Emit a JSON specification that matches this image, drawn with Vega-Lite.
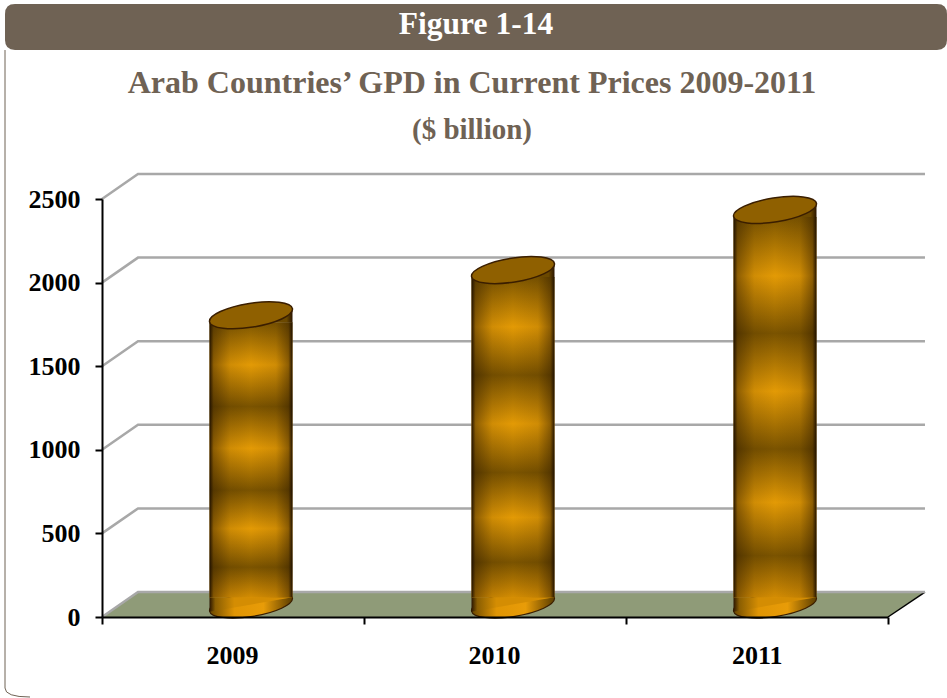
{
"$schema":"https://vega.github.io/schema/vega-lite/v6.json",
"width":786,"height":418,
"autosize":{"type":"none"},
"padding":{"left":102,"top":199,"right":59,"bottom":81},
"background":"white",
"config":{"view":{"stroke":null}},
"datasets":{
"gdp":[{"year":"2009","gdp":1730},{"year":"2010","gdp":2000},{"year":"2011","gdp":2360}],
"ticks":[{"tick":0},{"tick":500},{"tick":1000},{"tick":1500},{"tick":2000},{"tick":2500}],
"head":[{"label":"Figure 1-14","t1":"Arab Countries’ GPD in Current Prices 2009-2011","t2":"($ billion)"}]
},
"layer":[
{"data":{"name":"head"},"mark":{"type":"point","filled":true,"fill":"#6f6254","stroke":null,"opacity":1,"size":617796,"shape":"M-1.2214,-1.5598 L1.1247,-1.5598 Q1.1501,-1.5598 1.1501,-1.5344 L1.1501,-1.4681 Q1.1501,-1.4427 1.1247,-1.4427 L-1.2214,-1.4427 Q-1.2468,-1.4427 -1.2468,-1.4681 L-1.2468,-1.5344 Q-1.2468,-1.5598 -1.2214,-1.5598 Z"},
 "encoding":{"x":{"datum":"2010","type":"nominal"},"y":{"datum":0,"type":"quantitative"}}},
{"data":{"name":"head"},"mark":{"type":"point","filled":false,"fill":null,"stroke":"#6f6254","strokeWidth":1,"opacity":1,"size":617796,"shape":"M-1.2468,-1.4427 L-1.2468,0.1807 Q-1.2468,0.2036 -1.1832,0.2036"},
 "encoding":{"x":{"datum":"2010","type":"nominal"},"y":{"datum":0,"type":"quantitative"}}},
{"data":{"name":"head"},"mark":{"type":"point","filled":true,"fill":"#8f9b78","stroke":null,"opacity":1,"size":617796,"shape":"M-1,0 L1,0 L1.0941,-0.0636 L-0.9084,-0.0636 Z"},
 "encoding":{"x":{"datum":"2010","type":"nominal"},"y":{"datum":0,"type":"quantitative"}}},
{"data":{"name":"head"},"mark":{"type":"point","filled":false,"fill":null,"stroke":"#000000","strokeWidth":1.5,"opacity":1,"size":617796,"shape":"M1,0 L1.0941,-0.0636"},
 "encoding":{"x":{"datum":"2010","type":"nominal"},"y":{"datum":0,"type":"quantitative"}}},
{"data":{"name":"ticks"},"mark":{"type":"point","filled":false,"fill":null,"stroke":"#a8a8a8","strokeWidth":2.5,"opacity":1,"size":617796,"shape":"M-1,0 L-0.9084,-0.0636 L1.0941,-0.0636"},
 "encoding":{"x":{"datum":"2010","type":"nominal"},"y":{"field":"tick","type":"quantitative"}}},
{"data":{"name":"gdp"},"mark":{"type":"point","filled":true,"stroke":"#3a1e00","strokeWidth":1.2,"opacity":1,"size":6889,"xOffset":18,"yOffset":-12.5,
  "fill":{"gradient":"linear","x1":0,"y1":0,"x2":1,"y2":0,"stops":[{"offset":0,"color":"#6a4700"},{"offset":0.3,"color":"#e09504"},{"offset":0.65,"color":"#e89c08"},{"offset":1,"color":"#5a3c00"}]},
  "shape":"M0.999,-0.158 C1.024,-0.001 0.597,0.198 0.045,0.285 C-0.507,0.372 -0.974,0.315 -0.999,0.158 C-1.024,0.001 -0.597,-0.198 -0.045,-0.285 C0.507,-0.372 0.974,-0.315 0.999,-0.158 Z"},
 "encoding":{"x":{"field":"year","type":"nominal"},"y":{"datum":0,"type":"quantitative"}}},
{"data":{"name":"gdp"},"mark":{"type":"point","filled":true,"stroke":null,"opacity":1,"size":6889,"xOffset":18,"yOffset":-12.5,
  "fill":{"gradient":"linear","x1":0,"y1":0,"x2":1,"y2":0,"stops":[{"offset":0,"color":"#2a1500"},{"offset":0.07,"color":"#8a5e02"},{"offset":0.3,"color":"#d48d03"},{"offset":1,"color":"#d48d03"}]},
  "shape":"M-1,-0.175 L-1,0.175 L1,-0.175 Z"},
 "encoding":{"x":{"field":"year","type":"nominal"},"y":{"datum":0,"type":"quantitative"}}},
{"data":{"name":"gdp"},"mark":{"type":"point","filled":true,"stroke":null,"opacity":1,"size":6889,"xOffset":18,"yOffset":-12.5,
  "fill":{"gradient":"linear","x1":0,"y1":0,"x2":1,"y2":0,"stops":[{"offset":0,"color":"#7c5500"},{"offset":0.93,"color":"#6a4800"},{"offset":1,"color":"#2a1500"}]},
  "shape":"M-1,0.175 L1,-0.175 L1,0.175 Z"},
 "encoding":{"x":{"field":"year","type":"nominal"},"y":{"field":"gdp","type":"quantitative"}}},
{"data":{"name":"gdp"},"mark":{"type":"bar","width":83,"xOffset":18,"yOffset":-5.5,"y2Offset":-19.5,
  "fill":{"gradient":"linear","x1":0,"y1":0,"x2":0,"y2":1,"stops":[{"offset":0,"color":"#7c5500"},{"offset":0.155,"color":"#e39a05"},{"offset":0.306,"color":"#7a5300"},{"offset":0.458,"color":"#e39a05"},{"offset":0.61,"color":"#7a5300"},{"offset":0.75,"color":"#e39a05"},{"offset":0.89,"color":"#7a5300"},{"offset":1,"color":"#d48d03"}]}},
 "encoding":{
  "x":{"field":"year","type":"nominal","title":null,
   "scale":{"type":"band","paddingInner":0,"paddingOuter":0},
   "axis":{"orient":"bottom","domainColor":"#000000","domainWidth":2,"tickColor":"#000000","tickWidth":2,"tickSize":7,"tickBand":"extent","labelAngle":0,"labelFont":"Liberation Serif","labelFontWeight":"bold","labelFontSize":26,"labelColor":"#000000","labelPadding":31,"labelOffset":25,"zindex":1}},
  "y":{"field":"gdp","type":"quantitative","title":null,"stack":null,
   "scale":{"domain":[0,2500],"nice":false},
   "axis":{"values":[0,500,1000,1500,2000,2500],"format":"d","grid":false,"domainColor":"#000000","domainWidth":2,"tickColor":"#000000","tickWidth":2,"tickSize":7,"labelFont":"Liberation Serif","labelFontWeight":"bold","labelFontSize":26,"labelColor":"#000000","labelPadding":15,"zindex":1}},
  "y2":{"datum":0}
 }},
{"data":{"name":"gdp"},"mark":{"type":"bar","width":83,"xOffset":18,"yOffset":-5.5,"y2Offset":-19.5,
  "fill":{"gradient":"linear","x1":0,"y1":0,"x2":1,"y2":0,"stops":[{"offset":0,"color":"rgba(25,12,0,0.95)"},{"offset":0.05,"color":"rgba(40,22,0,0.45)"},{"offset":0.25,"color":"rgba(40,22,0,0.1)"},{"offset":0.5,"color":"rgba(40,22,0,0)"},{"offset":0.8,"color":"rgba(40,22,0,0.1)"},{"offset":0.95,"color":"rgba(40,22,0,0.45)"},{"offset":1,"color":"rgba(25,12,0,0.95)"}]}},
 "encoding":{"x":{"field":"year","type":"nominal"},"y":{"field":"gdp","type":"quantitative","stack":null},"y2":{"datum":0}}},
{"data":{"name":"gdp"},"mark":{"type":"point","filled":true,"fill":"#8f6000","stroke":"#3a1e00","strokeWidth":1.5,"opacity":1,"size":6889,"xOffset":18,"yOffset":-12.5,
  "shape":"M0.999,-0.158 C1.024,-0.001 0.597,0.198 0.045,0.285 C-0.507,0.372 -0.974,0.315 -0.999,0.158 C-1.024,0.001 -0.597,-0.198 -0.045,-0.285 C0.507,-0.372 0.974,-0.315 0.999,-0.158 Z"},
 "encoding":{"x":{"field":"year","type":"nominal"},"y":{"field":"gdp","type":"quantitative"}}},
{"data":{"name":"head"},"mark":{"type":"text","font":"Liberation Serif","fontWeight":"bold","fontSize":31.5,"color":"#ffffff","dx":-19,"dy":-174,"baseline":"middle","align":"center"},
 "encoding":{"x":{"datum":"2010","type":"nominal"},"y":{"datum":2500,"type":"quantitative"},"text":{"field":"label","type":"nominal"}}},
{"data":{"name":"head"},"mark":{"type":"text","font":"Liberation Serif","fontWeight":"bold","fontSize":32,"color":"#6f6254","dx":-23,"dy":-116,"baseline":"middle","align":"center"},
 "encoding":{"x":{"datum":"2010","type":"nominal"},"y":{"datum":2500,"type":"quantitative"},"text":{"field":"t1","type":"nominal"}}},
{"data":{"name":"head"},"mark":{"type":"text","font":"Liberation Serif","fontWeight":"bold","fontSize":29,"color":"#6f6254","dx":-23,"dy":-69,"baseline":"middle","align":"center"},
 "encoding":{"x":{"datum":"2010","type":"nominal"},"y":{"datum":2500,"type":"quantitative"},"text":{"field":"t2","type":"nominal"}}}
]
}
